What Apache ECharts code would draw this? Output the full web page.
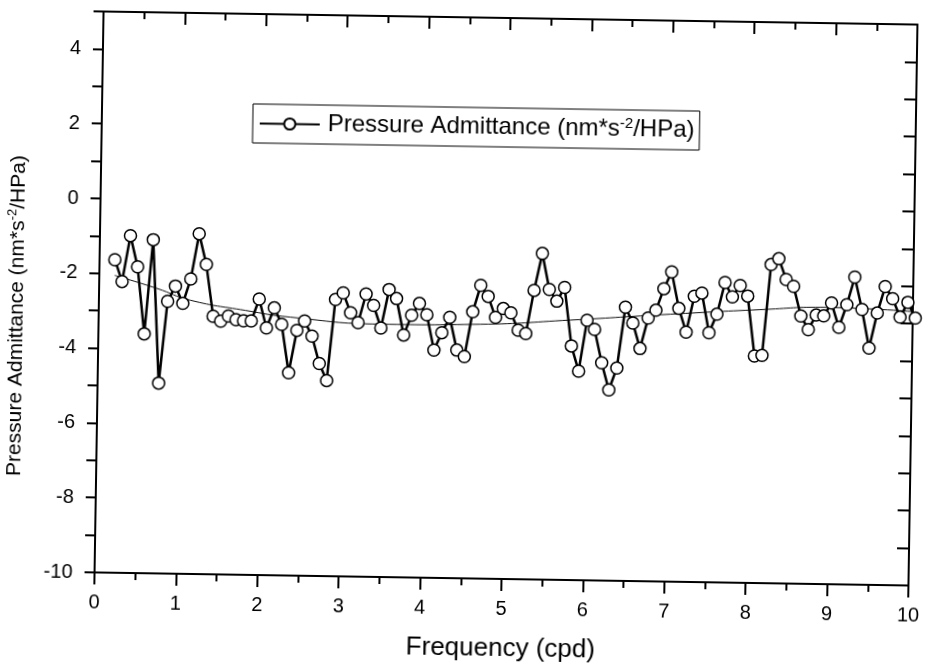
<!DOCTYPE html>
<html>
<head>
<meta charset="utf-8">
<script src="https://cdn.jsdelivr.net/npm/echarts@6/dist/echarts.min.js"></script>
<style>
html, body { margin: 0; padding: 0; background: #fff; overflow: hidden; }
/* the scanned figure sits slightly tilted on the page */
#chart { width: 925px; height: 663px; transform: rotate(0.92deg); transform-origin: 506px 298px; }
</style>
</head>
<body>
<div id="chart"></div>
<script>
// frequency (cpd) of each estimate
const freq = [
  0.188, 0.281, 0.375, 0.469, 0.563, 0.656, 0.750, 0.844, 0.938, 1.031,
  1.125, 1.219, 1.313, 1.406, 1.500, 1.594, 1.688, 1.781, 1.875, 1.969,
  2.063, 2.156, 2.250, 2.344, 2.438, 2.531, 2.625, 2.719, 2.813, 2.906,
  3.000, 3.094, 3.188, 3.281, 3.375, 3.469, 3.563, 3.656, 3.750, 3.844,
  3.938, 4.031, 4.125, 4.219, 4.313, 4.406, 4.500, 4.594, 4.688, 4.781,
  4.875, 4.969, 5.063, 5.156, 5.250, 5.344, 5.438, 5.531, 5.625, 5.719,
  5.813, 5.906, 6.000, 6.094, 6.188, 6.281, 6.375, 6.469, 6.563, 6.656,
  6.750, 6.844, 6.938, 7.031, 7.125, 7.219, 7.313, 7.406, 7.500, 7.594,
  7.688, 7.781, 7.875, 7.969, 8.063, 8.156, 8.250, 8.344, 8.438, 8.531,
  8.625, 8.719, 8.813, 8.906, 9.000, 9.094, 9.188, 9.281, 9.375, 9.469,
  9.563, 9.656, 9.750, 9.844, 9.938, 10.031
];

// pressure admittance (nm*s^-2/HPa)
const admittance = [
  -1.63, -2.21, -0.98, -1.81, -3.60, -1.08, -4.91, -2.72, -2.31, -2.77,
  -2.11, -0.90, -1.72, -3.10, -3.23, -3.09, -3.18, -3.21, -3.21, -2.62,
  -3.39, -2.85, -3.29, -4.58, -3.44, -3.19, -3.59, -4.32, -4.77, -2.60,
  -2.42, -2.95, -3.21, -2.44, -2.74, -3.34, -2.31, -2.55, -3.52, -2.99,
  -2.67, -2.97, -3.91, -3.44, -3.03, -3.90, -4.07, -2.87, -2.16, -2.45,
  -3.01, -2.77, -2.88, -3.34, -3.43, -2.27, -1.28, -2.24, -2.55, -2.18,
  -3.74, -4.41, -3.05, -3.29, -4.18, -4.90, -4.31, -2.68, -3.10, -3.78,
  -2.96, -2.75, -2.17, -1.72, -2.69, -3.32, -2.36, -2.27, -3.33, -2.83,
  -1.98, -2.36, -2.05, -2.33, -3.93, -3.91, -1.48, -1.32, -1.87, -2.05,
  -2.84, -3.20, -2.81, -2.83, -2.48, -3.13, -2.52, -1.78, -2.64, -3.67,
  -2.73, -2.02, -2.34, -2.83, -2.43, -2.85
];

// thin fitted trend curve
const trendFreq = [0.19, 0.71, 1.12, 1.80, 2.35, 3.46, 4.69, 5.79, 7.02, 8.12, 8.94, 10.03];
const trendValue = [-2.05, -2.38, -2.68, -2.93, -3.09, -3.24, -3.20, -3.05, -2.85, -2.69, -2.60, -2.68];

const font = '"Liberation Sans", Arial, Helvetica, sans-serif';
const black = "#000";

const points = freq.map((f, i) => [f, admittance[i]]);
const trend = trendFreq.map((f, i) => [f, trendValue[i]]);

const chart = echarts.init(document.getElementById("chart"), null, { renderer: "canvas" });

const frameLine = { onZero: false, lineStyle: { color: black, width: 2 } };
const tickStyle = { color: black, width: 2 };

chart.setOption({
  backgroundColor: "#fff",
  animation: false,
  grid: { left: 99, top: 18, width: 814, height: 561, outerBoundsMode: "none" },
  legend: {
    data: ["Pressure Admittance"],
    left: 250,
    top: 108,
    itemWidth: 60,
    itemHeight: 14,
    padding: [6, 5, 6, 6],
    borderColor: black,
    borderWidth: 1,
    formatter: "Pressure Admittance (nm*s{sup|-2}/HPa)",
    textStyle: {
      fontFamily: font,
      fontSize: 24,
      lineHeight: 27,
      color: black,
      padding: [0, 0, 0, 3],
      rich: {
        sup: { fontFamily: font, fontSize: 15, lineHeight: 15, verticalAlign: "top", color: black },
      },
    },
  },
  xAxis: [
    {
      type: "value",
      position: "bottom",
      min: 0,
      max: 10,
      interval: 1,
      name: "Frequency (cpd)",
      nameLocation: "middle",
      nameGap: 57,
      nameTextStyle: { fontFamily: font, fontSize: 26, color: black },
      axisLine: frameLine,
      axisTick: { length: 12, lineStyle: tickStyle },
      minorTick: { show: true, splitNumber: 2, length: 7, lineStyle: tickStyle },
      axisLabel: { margin: 20, fontFamily: font, fontSize: 20, color: black },
      splitLine: { show: false },
    },
    {
      type: "value",
      position: "top",
      min: 0,
      max: 10,
      interval: 1,
      axisLine: frameLine,
      axisTick: { inside: true, length: 12, lineStyle: tickStyle },
      minorTick: { show: true, splitNumber: 2, length: 7, lineStyle: tickStyle },
      axisLabel: { show: false },
      splitLine: { show: false },
    },
  ],
  yAxis: [
    {
      type: "value",
      position: "left",
      min: -10,
      max: 5,
      interval: 1,
      name: "Pressure Admittance (nm*s{sup|-2}/HPa)",
      nameLocation: "middle",
      nameGap: 70,
      nameTextStyle: {
        fontFamily: font,
        fontSize: 21,
        lineHeight: 24,
        color: black,
        padding: [0, 50, 0, 0],
        rich: {
          sup: { fontFamily: font, fontSize: 13, lineHeight: 13, verticalAlign: "top", color: black },
        },
      },
      axisLine: frameLine,
      axisTick: { length: 10, lineStyle: tickStyle },
      axisLabel: {
        margin: 22,
        fontFamily: font,
        fontSize: 20,
        color: black,
        formatter: (v) => (v % 2 === 0 ? String(v) : ""),
      },
      splitLine: { show: false },
    },
    {
      type: "value",
      position: "right",
      min: -10,
      max: 5,
      interval: 1,
      axisLine: frameLine,
      axisTick: { inside: true, length: 12, lineStyle: tickStyle },
      axisLabel: { show: false },
      splitLine: { show: false },
    },
  ],
  series: [
    {
      name: "trend",
      type: "line",
      data: trend,
      smooth: true,
      symbol: "none",
      silent: true,
      clip: false,
      lineStyle: { color: "#111", width: 1 },
      z: 2,
    },
    {
      name: "Pressure Admittance",
      type: "line",
      data: points,
      symbol: "circle",
      symbolSize: 12,
      showAllSymbol: true,
      clip: false,
      itemStyle: { color: "#fff", borderColor: black, borderWidth: 1.5 },
      lineStyle: { color: black, width: 2.5 },
      z: 3,
    },
  ],
});
</script>
</body>
</html>
